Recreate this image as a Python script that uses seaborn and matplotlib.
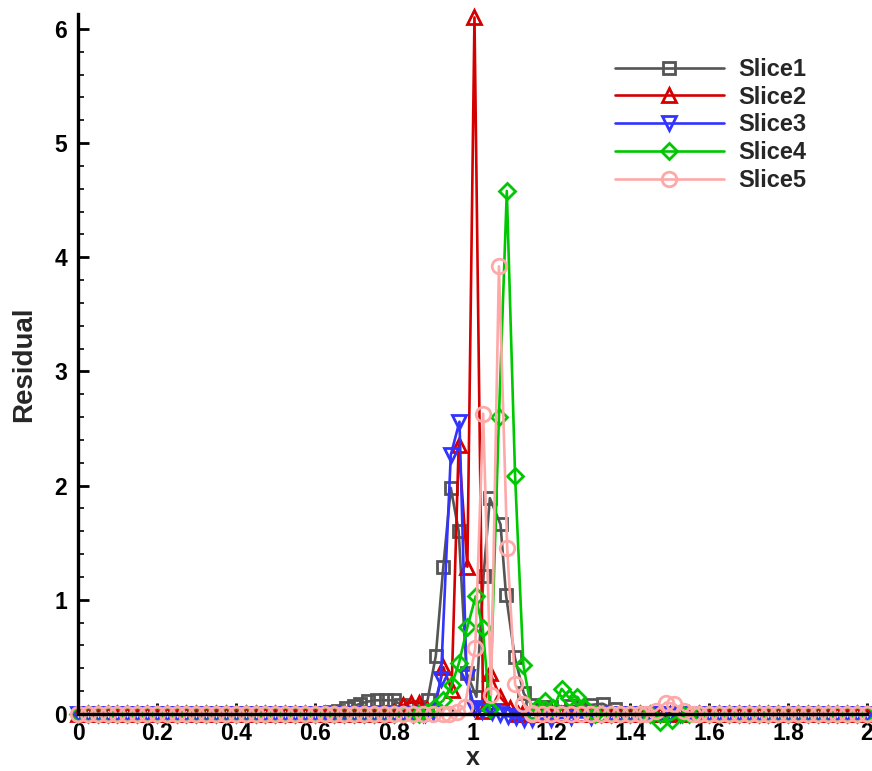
import numpy as np
import matplotlib
matplotlib.use("Agg")
import matplotlib.pyplot as plt
from matplotlib.ticker import MultipleLocator
import seaborn as sns

# ---------------- data ----------------
series_names = ["Slice1", "Slice2", "Slice3", "Slice4", "Slice5"]

# baseline grid where residual is ~0
base_x = np.linspace(0.0, 2.0, 81)

s1_x = [0.62, 0.64, 0.66, 0.68, 0.70, 0.715, 0.736, 0.757, 0.78, 0.80, 0.82, 0.845,
        0.865, 0.886, 0.907, 0.926, 0.945, 0.965, 0.985, 1.01, 1.028, 1.044, 1.071,
        1.085, 1.107, 1.13, 1.15, 1.175, 1.2, 1.25, 1.3, 1.33, 1.36, 1.4]
s1_y = [0.01, 0.02, 0.03, 0.05, 0.07, 0.09, 0.11, 0.12, 0.12, 0.12, 0.08, 0.06,
        0.06, 0.12, 0.51, 1.29, 1.98, 1.60, 0.36, 0.15, 1.21, 1.89, 1.66,
        1.04, 0.50, 0.18, 0.08, 0.06, 0.06, 0.07, 0.08, 0.09, 0.04, 0.01]

s2_x = [0.78, 0.80, 0.825, 0.845, 0.865, 0.885, 0.905, 0.926, 0.947, 0.965, 0.987,
        1.005, 1.027, 1.044, 1.07, 1.095, 1.115]
s2_y = [0.0, 0.02, 0.08, 0.10, 0.10, 0.04, 0.06, 0.41, 0.21, 2.36, 1.29,
        6.10, 0.03, 0.36, 0.15, 0.05, 0.0]

s3_x = [0.88, 0.90, 0.92, 0.945, 0.967, 0.985, 1.005, 1.025, 1.05, 1.07, 1.09,
        1.11, 1.13, 1.15, 1.2, 1.25, 1.3, 1.35]
s3_y = [0.0, 0.02, 0.31, 2.27, 2.56, 0.32, 0.05, 0.03, 0.02, 0.0, -0.02,
        -0.03, -0.04, -0.04, -0.04, -0.03, -0.03, 0.0]

s4_x = [0.865, 0.885, 0.905, 0.926, 0.947, 0.966, 0.987, 1.008, 1.026, 1.044, 1.067,
        1.087, 1.108, 1.129, 1.15, 1.165, 1.184, 1.205, 1.226, 1.245, 1.266, 1.285, 1.31]
s4_y = [0.0, 0.02, 0.06, 0.12, 0.25, 0.45, 0.76, 1.03, 0.75, 0.04, 2.60,
        4.58, 2.08, 0.43, 0.02, 0.06, 0.11, 0.05, 0.22, 0.14, 0.15, 0.05, 0.0]
s4b_x = [1.45, 1.475, 1.505, 1.53]
s4b_y = [0.0, -0.07, -0.05, 0.0]

s5_x = [0.94, 0.96, 0.98, 1.007, 1.027, 1.047, 1.067, 1.088, 1.108, 1.129, 1.15]
s5_y = [0.0, 0.02, 0.06, 0.58, 2.63, 0.17, 3.92, 1.45, 0.26, 0.09, 0.01]
s5b_x = [1.44, 1.465, 1.49, 1.51, 1.535, 1.56]
s5b_y = [0.0, 0.03, 0.10, 0.09, 0.03, 0.0]

x_tick_vals = [0, 0.2, 0.4, 0.6, 0.8, 1.0, 1.2, 1.4, 1.6, 1.8, 2.0]
x_tick_labels = ["0", "0.2", "0.4", "0.6", "0.8", "1", "1.2", "1.4", "1.6", "1.8", "2"]
y_tick_vals = [0, 1, 2, 3, 4, 5, 6]
y_tick_labels = ["0", "1", "2", "3", "4", "5", "6"]

colors = ["#555555", "#d40000", "#3333ff", "#00c800", "#ffa8a8"]
markers = ["s", "^", "v", "D", "o"]
msizes = [8, 10.5, 10.5, 8.5, 10.5]


def build(clusters):
    xs, ys = [], []
    for bx in base_x:
        if not any(min(cx) <= bx <= max(cx) for cx, _ in clusters):
            xs.append(float(bx))
            ys.append(0.0)
    for cx, cy in clusters:
        xs += list(cx)
        ys += list(cy)
    order = np.argsort(xs, kind="stable")
    return np.array(xs)[order], np.array(ys)[order]


all_series = [
    build([(s1_x, s1_y)]),
    build([(s2_x, s2_y)]),
    build([(s3_x, s3_y)]),
    build([(s4_x, s4_y), (s4b_x, s4b_y)]),
    build([(s5_x, s5_y), (s5b_x, s5b_y)]),
]

# ---------------- figure ----------------
sns.set_theme(style="white")
plt.rcParams["font.family"] = ["Liberation Sans", "DejaVu Sans"]
plt.rcParams["font.weight"] = "bold"
plt.rcParams["axes.labelweight"] = "bold"

W, H = 872, 771
fig = plt.figure(figsize=(W / 100, H / 100), dpi=100)
ax = fig.add_axes([78 / W, 1 - 714 / H, (867 - 78) / W, (714 - 14) / H])

for i, (name, (xs, ys)) in enumerate(zip(series_names, all_series)):
    sns.lineplot(x=xs, y=ys, ax=ax, color=colors[i], marker=markers[i],
                 markersize=msizes[i], markerfacecolor="none",
                 markeredgecolor=colors[i], markeredgewidth=2.0,
                 linewidth=1.9, sort=False, estimator=None, label=name,
                 clip_on=False, zorder=3 + i)

ax.set_xlim(0, 2)
ax.set_ylim(0, 6.13)
ax.set_xticks(x_tick_vals)
ax.set_xticklabels(x_tick_labels)
ax.set_yticks(y_tick_vals)
ax.set_yticklabels(y_tick_labels)
ax.xaxis.set_minor_locator(MultipleLocator(0.05))
ax.yaxis.set_minor_locator(MultipleLocator(0.2))

for s in ["top", "right"]:
    ax.spines[s].set_visible(False)
for s in ["left", "bottom"]:
    ax.spines[s].set_linewidth(2.4)
    ax.spines[s].set_color("black")
    ax.spines[s].set_zorder(10)

ax.tick_params(which="major", direction="in", length=8, width=2, colors="black",
               labelsize=16.5, bottom=True, left=True, top=False, right=False)
ax.tick_params(which="minor", direction="in", length=4, width=1.2, colors="black",
               bottom=True, left=True, top=False, right=False)
ax.tick_params(axis="x", which="major", pad=6)
ax.tick_params(axis="y", which="major", pad=8)
for lab in ax.get_xticklabels() + ax.get_yticklabels():
    lab.set_fontweight("bold")

ax.set_xlabel("x", fontsize=18, fontweight="bold", va="baseline")
ax.xaxis.set_label_coords(0.5, -(765 - 714) / 700)
ax.set_ylabel("Residual", fontsize=20, fontweight="bold", labelpad=12)

leg = ax.legend(loc="upper left", bbox_to_anchor=(615 / W, 1 - 58 / H),
                bbox_transform=fig.transFigure, frameon=False,
                prop={"size": 17, "weight": "bold"}, handlelength=4.6,
                handletextpad=0.6, labelspacing=0.2, borderpad=0,
                borderaxespad=0)

fig.savefig("out.png", dpi=100, facecolor="white")
